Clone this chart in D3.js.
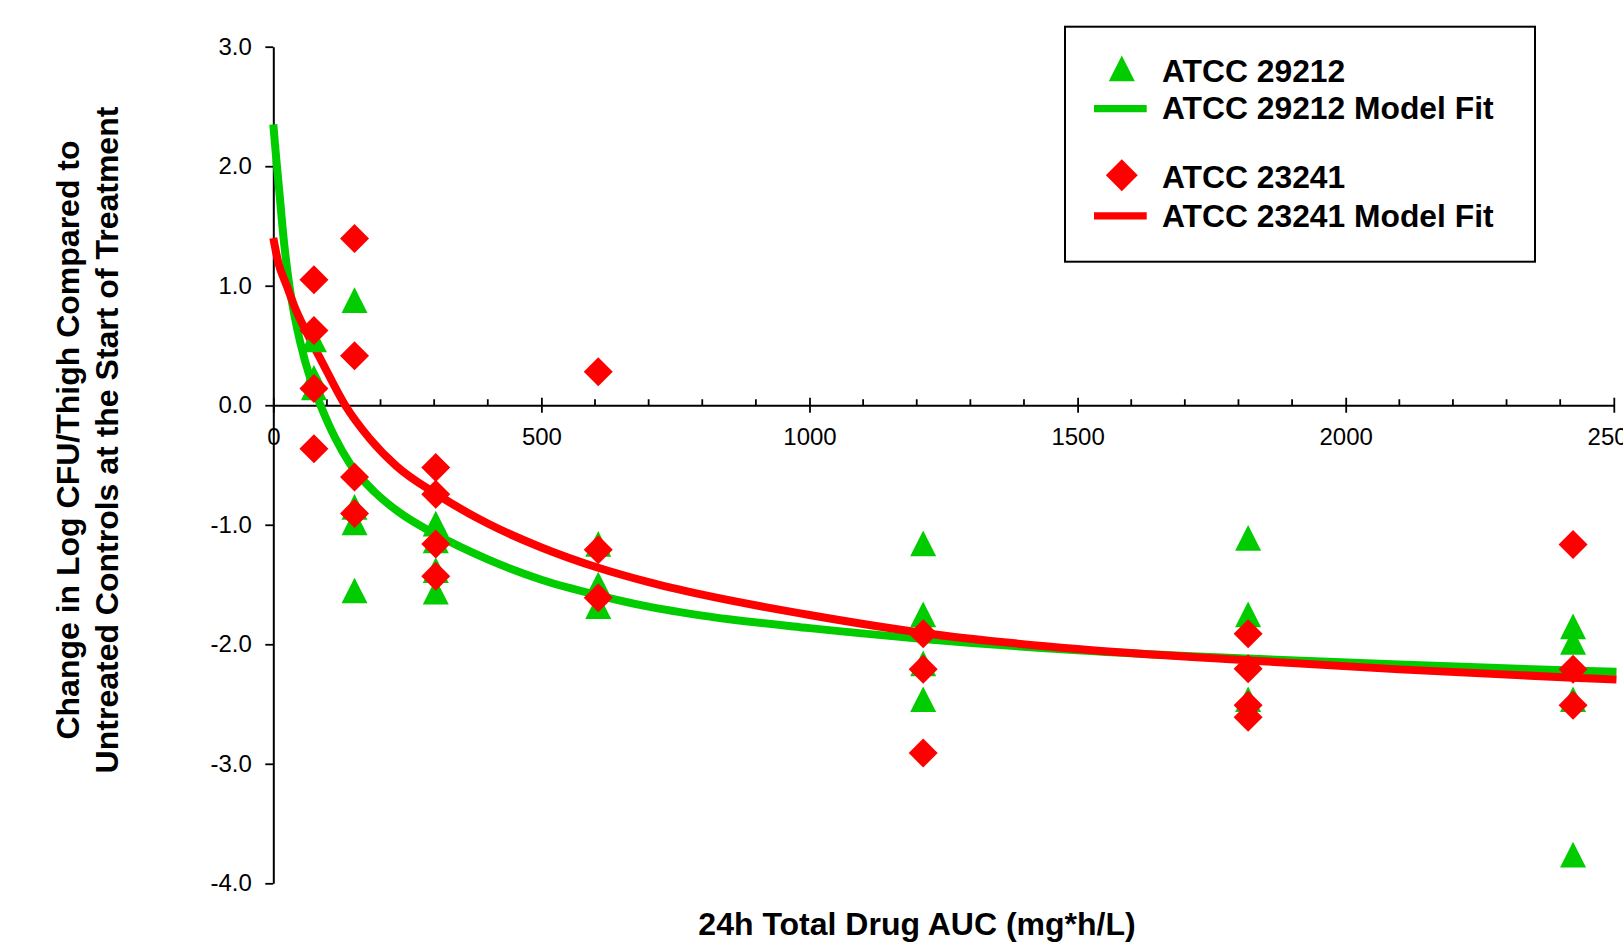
<!DOCTYPE html>
<html>
<head>
<meta charset="utf-8">
<script src="https://cdn.jsdelivr.net/npm/d3@7"></script>
<style>
  body { margin: 0; background: #fff; }
  svg { display: block; font-family: "Liberation Sans", Arial, sans-serif; }
</style>
</head>
<body>
<div class="chart_box"></div>
<script>
// ATCC 29212 observations (triangles)
var auc29212 = [75.75, 75.75, 75.75, 151.5, 151.5, 151.5, 151.5, 303, 303, 303, 303,
                606, 606, 606, 1212, 1212, 1212, 1212, 1818, 1818, 1818,
                2424, 2424, 2424, 2424];
var cfu29212 = [0.55, 0.23, 0.15, 0.88, -0.85, -0.98, -1.55, -0.99, -1.13, -1.38, -1.56,
                -1.16, -1.50, -1.68, -1.155, -1.75, -2.16, -2.46, -1.11, -1.75, -2.46,
                -1.85, -1.98, -2.46, -3.76];

// ATCC 23241 observations (diamonds)
var auc23241 = [75.75, 75.75, 75.75, 75.75, 151.5, 151.5, 151.5, 151.5, 303, 303, 303, 303,
                606, 606, 606, 1212, 1212, 1212, 1818, 1818, 1818, 1818,
                2424, 2424, 2424];
var cfu23241 = [1.05, 0.625, 0.14, -0.365, 1.395, 0.415, -0.60, -0.905, -0.52, -0.745, -1.16, -1.43,
                0.28, -1.21, -1.61, -1.913, -2.21, -2.91, -1.913, -2.205, -2.51, -2.61,
                -1.165, -2.21, -2.51];

// model fit curves
var fitX29212 = [0, 4, 8, 12, 18, 30, 40, 50, 70, 88, 115, 143, 190, 236, 303, 400, 500, 606, 700, 800, 1000, 1212, 1500, 1818, 2100, 2424, 2505];
var fitY29212 = [2.35, 2.14, 1.94, 1.75, 1.45, 1.0, 0.74, 0.53, 0.21, 0.0, -0.27, -0.49, -0.73, -0.90, -1.08, -1.29, -1.46, -1.59, -1.685, -1.76, -1.865, -1.955, -2.05, -2.12, -2.17, -2.22, -2.23];

var fitX23241 = [0, 9, 25, 40, 62, 90, 134, 180, 230, 303, 400, 500, 606, 700, 800, 1000, 1212, 1500, 1818, 2100, 2424, 2505];
var fitY23241 = [1.40, 1.2, 1.0, 0.82, 0.61, 0.37, 0.0, -0.28, -0.51, -0.74, -0.99, -1.19, -1.36, -1.48, -1.585, -1.755, -1.905, -2.04, -2.135, -2.21, -2.28, -2.295];

var xTicks = [0, 500, 1000, 1500, 2000, 2500];
var xMinorTicks = [100, 200, 300, 400, 600, 700, 800, 900, 1100, 1200, 1300, 1400,
                   1600, 1700, 1800, 1900, 2100, 2200, 2300, 2400];
var yTicks = [3, 2, 1, 0, -1, -2, -3, -4];

var legendLabels = ["ATCC 29212", "ATCC 29212 Model Fit", "ATCC 23241", "ATCC 23241 Model Fit"];

var green = "#00cc00";
var red = "#ff0000";
var width = 1623;
var height = 945;

var svg = d3.select(".chart_box")
  .append("svg")
  .attr("width", width)
  .attr("height", height);

svg.append("rect").attr("width", width).attr("height", height).attr("fill", "#fff");

var xScale = d3.scaleLinear().domain([0, 2500]).range([273.3, 1613.8]);
var yScale = d3.scaleLinear().domain([-4, 3]).range([883.3, 46.7]);

var fmt1 = d3.format(".1f");

// y axis
var yAxis = d3.axisLeft(yScale)
  .tickValues(yTicks)
  .tickSizeInner(8)
  .tickSizeOuter(0)
  .tickPadding(13.5)
  .tickFormat(d => fmt1(d).replace("\u2212", "-"));

var gy = svg.append("g")
  .attr("transform", "translate(" + xScale(0) + ",0)")
  .call(yAxis);
gy.select(".domain").attr("stroke", "#000").attr("stroke-width", 2);
gy.selectAll(".tick line").attr("stroke", "#000").attr("stroke-width", 1.8);
gy.selectAll(".tick text")
  .attr("font-size", "24px")
  .attr("fill", "#000")
  .attr("font-family", "Liberation Sans, Arial, sans-serif");

// x axis sits at y = 0
var xAxis = d3.axisBottom(xScale)
  .tickValues(xTicks)
  .tickSizeInner(7.5)
  .tickSizeOuter(0)
  .tickPadding(15.5)
  .tickFormat(d3.format("d"));

var gx = svg.append("g")
  .attr("transform", "translate(0," + yScale(0) + ")")
  .call(xAxis);
gx.select(".domain").attr("stroke", "#000").attr("stroke-width", 2);
gx.selectAll(".tick line").attr("y1", -7.5).attr("stroke", "#000").attr("stroke-width", 1.8);
gx.selectAll(".tick text")
  .attr("font-size", "24px")
  .attr("fill", "#000")
  .attr("font-family", "Liberation Sans, Arial, sans-serif");

gx.selectAll(".minor")
  .data(xMinorTicks).enter()
  .append("line")
  .attr("class", "minor")
  .attr("x1", d => xScale(d))
  .attr("x2", d => xScale(d))
  .attr("y1", 0)
  .attr("y2", -6)
  .attr("stroke", "#000")
  .attr("stroke-width", 1.8);

// model fits
var line = d3.line()
  .x(d => xScale(d[0]))
  .y(d => yScale(d[1]))
  .curve(d3.curveMonotoneX);

var fit29212 = fitX29212.map((x, i) => [x, fitY29212[i]]);
var fit23241 = fitX23241.map((x, i) => [x, fitY23241[i]]);

svg.append("path")
  .attr("d", line(fit29212))
  .attr("fill", "none")
  .attr("stroke", green)
  .attr("stroke-width", 8);

svg.append("path")
  .attr("d", line(fit23241))
  .attr("fill", "none")
  .attr("stroke", red)
  .attr("stroke-width", 8);

// markers
var triangle = "M0,-12.85L13,12.85L-13,12.85Z";
var diamond = "M0,-14.5L14.5,0L0,14.5L-14.5,0Z";

svg.append("g").selectAll("path")
  .data(auc29212).enter()
  .append("path")
  .attr("d", triangle)
  .attr("transform", (d, i) => "translate(" + xScale(d) + "," + yScale(cfu29212[i]) + ")")
  .attr("fill", green);

svg.append("g").selectAll("path")
  .data(auc23241).enter()
  .append("path")
  .attr("d", diamond)
  .attr("transform", (d, i) => "translate(" + xScale(d) + "," + yScale(cfu23241[i]) + ")")
  .attr("fill", red);

// axis titles
var yTitle = svg.append("text")
  .attr("transform", "translate(0,440) rotate(-90)")
  .attr("text-anchor", "middle")
  .attr("font-size", "32px")
  .attr("font-weight", "bold")
  .attr("fill", "#000");
yTitle.append("tspan").attr("x", 0).attr("y", 79).text("Change in Log CFU/Thigh Compared to");
yTitle.append("tspan").attr("x", 0).attr("y", 118).text("Untreated Controls at the Start of Treatment");

svg.append("text")
  .attr("x", 917)
  .attr("y", 935)
  .attr("text-anchor", "middle")
  .attr("font-size", "32px")
  .attr("font-weight", "bold")
  .attr("fill", "#000")
  .text("24h Total Drug AUC (mg*h/L)");

// legend
var legend = svg.append("g");
legend.append("rect")
  .attr("x", 1065)
  .attr("y", 26.7)
  .attr("width", 470)
  .attr("height", 235)
  .attr("fill", "#fff")
  .attr("stroke", "#000")
  .attr("stroke-width", 2);

legend.append("path").attr("d", triangle).attr("transform", "translate(1121.8,68.3)").attr("fill", green);
legend.append("line").attr("x1", 1094).attr("x2", 1146.7).attr("y1", 108.7).attr("y2", 108.7)
  .attr("stroke", green).attr("stroke-width", 7.3);
legend.append("path").attr("d", diamond).attr("transform", "translate(1121.8,175.3) scale(1.1)").attr("fill", red);
legend.append("line").attr("x1", 1094).attr("x2", 1146.7).attr("y1", 215.8).attr("y2", 215.8)
  .attr("stroke", red).attr("stroke-width", 7.3);

var legendY = [81.7, 119.3, 188.3, 226.7];
legend.selectAll(".lbl")
  .data(legendLabels).enter()
  .append("text")
  .attr("class", "lbl")
  .attr("x", 1162)
  .attr("y", (d, i) => legendY[i])
  .attr("font-size", "31.8px")
  .attr("font-weight", "bold")
  .attr("fill", "#000")
  .text(d => d);
</script>
</body>
</html>
